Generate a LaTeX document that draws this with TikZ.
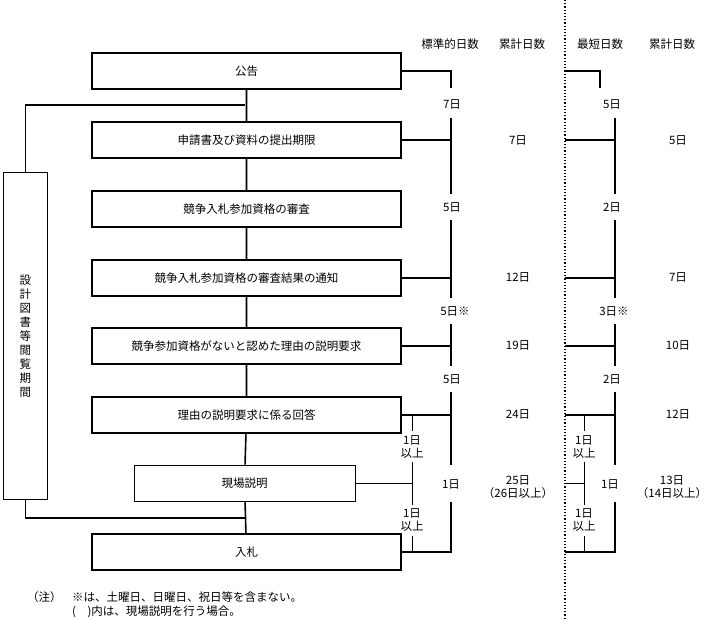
\documentclass[tikz,border=0pt]{standalone}
\usepackage{fontspec}
\setmainfont{Noto Sans CJK JP}
\tikzset{
  stage/.style={draw, line width=1.6pt, minimum width=309pt, minimum height=36pt, inner sep=0pt},
  lbl/.style={inner sep=0pt, font=\fontsize{11.5}{13}\selectfont, align=center},
  bar/.style={line width=1.6pt},
  sub/.style={line width=0.8pt},
}
\begin{document}
\begin{tikzpicture}[x=1pt, y=-1pt, font=\fontsize{11.5}{13}\selectfont]
\useasboundingbox (0,0) rectangle (705,620);
% stages
\node[stage] (P_0) at (246.5,71) {公告};
\node[stage] (P_1) at (246.5,140) {申請書及び資料の提出期限};
\node[stage] (P_2) at (246.5,209) {競争入札参加資格の審査};
\node[stage] (P_3) at (246.5,278) {競争入札参加資格の審査結果の通知};
\node[stage] (P_4) at (246.5,346) {競争参加資格がないと認めた理由の説明要求};
\node[stage] (P_5) at (246.5,415) {理由の説明要求に係る回答};
\node[draw, line width=0.8pt, minimum width=221pt, minimum height=36pt, inner sep=0pt] (P_6) at (244.5,483) {現場説明};
\node[stage] (P_7) at (246.5,552) {入札};
\node[draw, line width=1.6pt, minimum width=44pt, minimum height=327pt, inner sep=0pt, align=center, font=\fontsize{11.5}{14}\selectfont] (L) at (25.5,336) {設\\計\\図\\書\\等\\閲\\覧\\期\\間};
\draw[bar] (P_0) -- (P_1) -- (P_2) -- (P_3) -- (P_4) -- (P_5) -- (P_6) -- (P_7);
\coordinate (A_0) at (245,105);
\coordinate (A_1) at (245,518);
\draw[bar] (A_0) -| (L.north);
\draw[bar] (L.south) |- (A_1);
% headers
\node[lbl] (H_0) at (450,44) {標準的日数};
\node[lbl] (H_1) at (522,44) {累計日数};
\node[lbl] (H_2) at (600,44) {最短日数};
\node[lbl] (H_3) at (672,44) {累計日数};
\draw[line width=1.2pt, dotted] (565,0) -- (565,620);
% standard days
\node[lbl] (S_0) at (452,104) {7日};
\node[lbl] (S_1) at (452,207) {5日};
\node[lbl] (S_2) at (455,311) {5日※};
\node[lbl] (S_3) at (452,379) {5日};
\node[lbl] (S_4) at (451,484) {1日};
\draw[bar] (P_0.east) -| (451,88);
\draw[bar] (451,118) -- (451,194);
\draw[bar] (451,220) -- (451,298);
\draw[bar] (451,324) -- (451,366);
\draw[bar] (451,392) -- (451,465);
\draw[bar] (451,502) -- (451,552) -- (P_7.east);
\foreach \i in {1,3,4,5} \draw[bar] (P_\i.east) -- (451,0 |- P_\i.east);
\draw[sub] (412,415) -- (412,431);
\draw[sub] (412,462) -- (412,505);
\draw[sub] (412,536) -- (412,552);
\draw[sub] (P_6.east) -- (412,483);
\node[lbl] (U_0) at (412,447) {1日\\以上};
\node[lbl] (U_1) at (412,520) {1日\\以上};
% cumulative
\node[lbl] (C_0) at (518,140) {7日};
\node[lbl] (C_1) at (518,277) {12日};
\node[lbl] (C_2) at (518,345) {19日};
\node[lbl] (C_3) at (518,414) {24日};
\node[lbl] (C_4) at (518,487) {25日\\（26日以上）};
% shortest days
\node[lbl] (R_0) at (612,104) {5日};
\node[lbl] (R_1) at (612,207) {2日};
\node[lbl] (R_2) at (614,311) {3日※};
\node[lbl] (R_3) at (612,379) {2日};
\node[lbl] (R_4) at (610,484) {1日};
\draw[bar] (565,71) -| (600,88);
\draw[bar] (615,118) -- (615,194);
\draw[bar] (615,220) -- (615,298);
\draw[bar] (615,324) -- (615,366);
\draw[bar] (615,392) -- (615,465);
\draw[bar] (615,502) -- (615,552) -- (565,552);
\foreach \y in {140,278,346,415} \draw[bar] (565,\y) -- (615,\y);
\draw[sub] (584,415) -- (584,431);
\draw[sub] (584,462) -- (584,505);
\draw[sub] (584,536) -- (584,552);
\draw[sub] (565,483) -- (584,483);
\node[lbl] (V_0) at (584,447) {1日\\以上};
\node[lbl] (V_1) at (584,520) {1日\\以上};
\node[lbl] (D_0) at (678,140) {5日};
\node[lbl] (D_1) at (678,277) {7日};
\node[lbl] (D_2) at (678,345) {10日};
\node[lbl] (D_3) at (678,414) {12日};
\node[lbl] (D_4) at (672,487) {13日\\（14日以上）};
% notes
\node[lbl, anchor=west] (N_0) at (27,597) {（注）};
\node[lbl, anchor=west] (N_1) at (72,597) {※は、土曜日、日曜日、祝日等を含まない。};
\node[lbl, anchor=west] (N_2) at (72,612) {(\quad)内は、現場説明を行う場合。};
\end{tikzpicture}
\end{document}
